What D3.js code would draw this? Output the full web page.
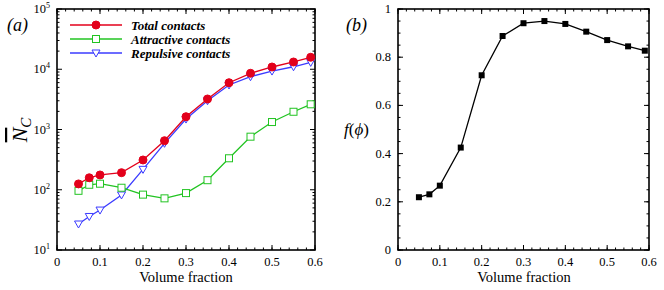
<!DOCTYPE html>
<html>
<head>
<meta charset="utf-8">
<script src="https://cdn.jsdelivr.net/npm/d3@7"></script>
</head>
<body style="margin:0;background:#fff">
<svg id="chart" width="664" height="290" font-family="Liberation Serif"></svg>
<script>
// data
var volFrac = [0.05, 0.075, 0.1, 0.15, 0.2, 0.25, 0.3, 0.35, 0.4, 0.45, 0.5, 0.55, 0.59];
var totalContacts = [125, 158, 176, 192, 312, 652, 1630, 3210, 5980, 8570, 10900, 13200, 15800];
var attractiveContacts = [96, 121, 126, 108, 83, 72, 88, 144, 333, 760, 1330, 1970, 2620];
var repulsiveContacts = [27, 36, 46, 82, 218, 590, 1490, 3000, 5480, 7520, 9330, 11000, 13000];
var fPhi = [0.219, 0.231, 0.267, 0.425, 0.725, 0.888, 0.941, 0.950, 0.938, 0.906, 0.871, 0.845, 0.827];
var xTicks = [0, 0.1, 0.2, 0.3, 0.4, 0.5, 0.6];
var logTicks = [1, 2, 3, 4, 5];
var fTicks = [0, 0.2, 0.4, 0.6, 0.8, 1];

var svg = d3.select("#chart");
var FONT = "Liberation Serif";

var series = [
    {name: "Total contacts", values: totalContacts, color: "#e3001b", marker: "circle"},
    {name: "Attractive contacts", values: attractiveContacts, color: "#22c422", marker: "square"},
    {name: "Repulsive contacts", values: repulsiveContacts, color: "#3b3bff", marker: "tri"}
];

function txt(g, x, y, size) {
    return g.append("text").attr("x", x).attr("y", y)
        .attr("font-family", FONT).attr("font-size", size).attr("fill", "#000");
}

function drawMarker(g, type, color, cx, cy) {
    if (type === "circle") {
        g.append("circle").attr("cx", cx).attr("cy", cy).attr("r", 4).attr("fill", color).attr("stroke", color);
    } else if (type === "square") {
        g.append("rect").attr("x", cx - 3.5).attr("y", cy - 3.5).attr("width", 7).attr("height", 7)
            .attr("fill", "#fff").attr("stroke", color).attr("stroke-width", 1);
    } else if (type === "tri") {
        g.append("path").attr("d", "M" + (cx - 4) + "," + (cy - 3) + "L" + (cx + 4) + "," + (cy - 3) + "L" + cx + "," + (cy + 4) + "Z")
            .attr("fill", "#fff").attr("stroke", color).attr("stroke-width", 1);
    } else if (type === "fsquare") {
        g.append("rect").attr("x", cx - 3).attr("y", cy - 3).attr("width", 6).attr("height", 6).attr("fill", color);
    }
}

// frame with inward ticks on all sides
function frame(g, x, y, majorX, minorX, majorY, minorY, left, right, top, bottom) {
    var tk = g.append("g").attr("stroke", "#000").attr("stroke-width", 1);
    minorX.forEach(function (v) {
        tk.append("line").attr("x1", x(v)).attr("x2", x(v)).attr("y1", bottom).attr("y2", bottom - 2.5);
        tk.append("line").attr("x1", x(v)).attr("x2", x(v)).attr("y1", top).attr("y2", top + 2.5);
    });
    majorX.forEach(function (v) {
        tk.append("line").attr("x1", x(v)).attr("x2", x(v)).attr("y1", bottom).attr("y2", bottom - 5);
        tk.append("line").attr("x1", x(v)).attr("x2", x(v)).attr("y1", top).attr("y2", top + 5);
    });
    minorY.forEach(function (v) {
        tk.append("line").attr("x1", left).attr("x2", left + 2.5).attr("y1", y(v)).attr("y2", y(v));
        tk.append("line").attr("x1", right).attr("x2", right - 2.5).attr("y1", y(v)).attr("y2", y(v));
    });
    majorY.forEach(function (v) {
        tk.append("line").attr("x1", left).attr("x2", left + 5).attr("y1", y(v)).attr("y2", y(v));
        tk.append("line").attr("x1", right).attr("x2", right - 5).attr("y1", y(v)).attr("y2", y(v));
    });
    g.append("rect").attr("x", left).attr("y", top).attr("width", right - left).attr("height", bottom - top)
        .attr("fill", "none").attr("stroke", "#000").attr("stroke-width", 1.6);

    majorX.forEach(function (d) {
        txt(g, x(d), bottom + 16, 12.5).attr("text-anchor", "middle").text(d);
    });
}

/****** panel (a) ******/
var xa = d3.scaleLinear().domain([0, 0.6]).range([57, 315]);
var ya = d3.scaleLog().domain([10, 100000]).range([250, 9]);
var ga = svg.append("g");

var minorXa = d3.range(0, 0.601, 0.02);
var minorYa = [];
for (var e = 1; e < 5; e++) {
    for (var m = 2; m <= 9; m++) minorYa.push(m * Math.pow(10, e));
}
frame(ga, xa, ya, xTicks, minorXa, logTicks.map(function (p) { return Math.pow(10, p); }), minorYa, 57, 315, 9, 250);

// log tick labels 10^n
logTicks.forEach(function (p) {
    var t = txt(ga, 50, ya(Math.pow(10, p)) + 4, 12.5).attr("text-anchor", "end");
    t.append("tspan").text("10");
    t.append("tspan").attr("dy", -5).attr("font-size", 8).text(p);
});

var lineA = d3.line().x(function (d, i) { return xa(volFrac[i]); }).y(function (d) { return ya(d); });

series.slice().reverse().forEach(function (s) {
    ga.append("path").datum(s.values).attr("d", lineA)
        .attr("fill", "none").attr("stroke", s.color).attr("stroke-width", 1.3);
});
series.slice().reverse().forEach(function (s) {
    var mg = ga.append("g");
    s.values.forEach(function (v, i) { drawMarker(mg, s.marker, s.color, xa(volFrac[i]), ya(v)); });
});

// legend
series.forEach(function (s, i) {
    var ly = 25 + i * 14;
    ga.append("line").attr("x1", 70).attr("x2", 122).attr("y1", ly).attr("y2", ly)
        .attr("stroke", s.color).attr("stroke-width", 1.3);
    drawMarker(ga, s.marker, s.color, 96, ly);
    txt(ga, 131, ly + 4.5, 13).attr("font-weight", "bold").attr("font-style", "italic").text(s.name);
});

txt(ga, 7, 31, 18).attr("font-style", "italic").text("(a)");
txt(ga, 186, 282, 14.5).attr("text-anchor", "middle").text("Volume fraction");

// y label: N-bar sub c, rotated
var yl = txt(ga, 0, 0, 22).attr("transform", "translate(27,130) rotate(-90)").attr("text-anchor", "middle");
yl.append("tspan").attr("font-style", "italic").attr("text-decoration", "overline").text("N");
yl.append("tspan").attr("dy", 4).attr("font-size", 15).attr("font-style", "italic").text("C");

/****** panel (b) ******/
var xb = d3.scaleLinear().domain([0, 0.6]).range([398, 649]);
var yb = d3.scaleLinear().domain([0, 1]).range([250, 9]);
var gb = svg.append("g");

frame(gb, xb, yb, xTicks, d3.range(0, 0.601, 0.02), fTicks, d3.range(0, 1.001, 0.05), 398, 649, 9, 250);

fTicks.forEach(function (d) {
    txt(gb, 391, yb(d) + 4, 12.5).attr("text-anchor", "end").text(d);
});

var lineB = d3.line().x(function (d, i) { return xb(volFrac[i]); }).y(function (d) { return yb(d); });
gb.append("path").datum(fPhi).attr("d", lineB).attr("fill", "none").attr("stroke", "#000").attr("stroke-width", 1.3);
fPhi.forEach(function (v, i) { drawMarker(gb, "fsquare", "#000", xb(volFrac[i]), yb(v)); });

txt(gb, 346, 31, 18).attr("font-style", "italic").text("(b)");
txt(gb, 524, 282, 14.5).attr("text-anchor", "middle").text("Volume fraction");
var fl = txt(gb, 344, 135, 17);
fl.append("tspan").attr("font-style", "italic").text("f");
fl.append("tspan").text("(");
fl.append("tspan").attr("font-style", "italic").text("\u03D5");
fl.append("tspan").text(")");
</script>
</body>
</html>
